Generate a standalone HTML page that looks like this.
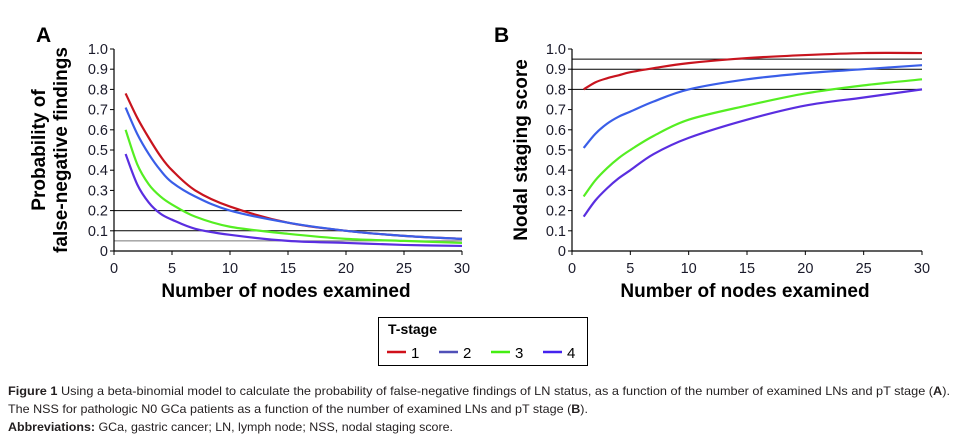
<!DOCTYPE html>
<html><head><meta charset="utf-8"><style>
html,body{margin:0;padding:0;background:#fff;}
svg{display:block;font-family:"Liberation Sans",sans-serif;}
</style></head><body>
<svg id="fig" width="957" height="441" viewBox="0 0 957 441">
<g id="pa"></g>
<g id="pb"></g>
<g>
<rect x="378.5" y="317.5" width="209" height="48" fill="#fff" stroke="#000" stroke-width="1"/>
<text x="388" y="334" font-size="14" font-weight="bold" font-family="Liberation Sans Narrow, Liberation Sans, sans-serif">T-stage</text>
<g><line x1="387" y1="352" x2="406" y2="352" stroke="#d0101a" stroke-width="2.5"/><text x="411" y="358" font-size="15">1</text></g>
<g><line x1="439" y1="352" x2="458" y2="352" stroke="#5050b8" stroke-width="2.5"/><text x="463" y="358" font-size="15">2</text></g>
<g><line x1="491" y1="352" x2="510" y2="352" stroke="#44ee11" stroke-width="2.5"/><text x="515" y="358" font-size="15">3</text></g>
<g><line x1="543" y1="352" x2="562" y2="352" stroke="#4422ee" stroke-width="2.5"/><text x="567" y="358" font-size="15">4</text></g>
</g>
<g font-size="12" fill="#231f20">
<text x="8" y="395" textLength="942" lengthAdjust="spacingAndGlyphs"><tspan font-weight="bold">Figure 1</tspan> Using a beta-binomial model to calculate the probability of false-negative findings of LN status, as a function of the number of examined LNs and pT stage (<tspan font-weight="bold">A</tspan>).</text>
<text x="8" y="413" textLength="580" lengthAdjust="spacingAndGlyphs">The NSS for pathologic N0 GCa patients as a function of the number of examined LNs and pT stage (<tspan font-weight="bold">B</tspan>).</text>
<text x="8" y="431" textLength="445" lengthAdjust="spacingAndGlyphs"><tspan font-weight="bold">Abbreviations:</tspan> GCa, gastric cancer; LN, lymph node; NSS, nodal staging score.</text>
</g>
</svg>
<script>
const xs = [1,2,3,4,5,7,10,15,20,25,30];
const aS1 = [0.78,0.66,0.56,0.47,0.40,0.30,0.22,0.14,0.10,0.075,0.06];
const aS2 = [0.71,0.58,0.48,0.40,0.34,0.27,0.20,0.14,0.10,0.075,0.06];
const aS3 = [0.60,0.43,0.33,0.27,0.23,0.17,0.12,0.085,0.06,0.05,0.04];
const aS4 = [0.48,0.33,0.24,0.185,0.155,0.11,0.08,0.05,0.04,0.03,0.025];
const bS1 = [0.80,0.835,0.855,0.87,0.885,0.905,0.93,0.955,0.97,0.98,0.98];
const bS2 = [0.51,0.58,0.63,0.665,0.69,0.74,0.80,0.85,0.88,0.90,0.92];
const bS3 = [0.27,0.35,0.41,0.46,0.50,0.57,0.65,0.72,0.78,0.82,0.85];
const bS4 = [0.17,0.25,0.31,0.36,0.40,0.48,0.56,0.65,0.72,0.76,0.80];
const aRefs = [0.2,0.1,0.05];
const bRefs = [0.95,0.9,0.8];
const yTicks = ["0","0.1","0.2","0.3","0.4","0.5","0.6","0.7","0.8","0.9","1.0"];
const xTicks = [0,5,10,15,20,25,30];
const colors = ["#c8141e","#3a5ee8","#55ee22","#5a2ee0"];
const NS="http://www.w3.org/2000/svg";
function mk(p,tag,at){const e=document.createElementNS(NS,tag);for(const k in at)e.setAttribute(k,at[k]);p.appendChild(e);return e;}
function smooth(pts){
  let d=`M${pts[0][0]},${pts[0][1]}`;
  for(let i=0;i<pts.length-1;i++){
    const p0=pts[Math.max(0,i-1)],p1=pts[i],p2=pts[i+1],p3=pts[Math.min(pts.length-1,i+2)];
    const c1=[p1[0]+(p2[0]-p0[0])/6,p1[1]+(p2[1]-p0[1])/6];
    const c2=[p2[0]-(p3[0]-p1[0])/6,p2[1]-(p3[1]-p1[1])/6];
    d+=` C${c1[0]},${c1[1]} ${c2[0]},${c2[1]} ${p2[0]},${p2[1]}`;
  }
  return d;
}
function panel(g,x0,x1,letter,titleLines,series,refs){
  const y0=251,y1=49;
  const X=v=>x0+(x1-x0)*v/30, Y=v=>y0-(y0-y1)*v;
  const l=mk(g,'text',{x:x0-78,y:42,'font-size':21,'font-weight':'bold'});l.textContent=letter;
  
  
  refs.forEach((r,i)=>{const ln=mk(g,'line',{x1:x0,x2:x1,y1:Y(r),y2:Y(r),stroke:(r===0.05?'#777':'#000'),'stroke-width':1});
    
    });
  const ax=mk(g,'path',{d:`M${x0} ${y1}V${y0}H${x1}`,fill:'none',stroke:'#000','stroke-width':1.2});
  
  
  yTicks.forEach((t,i)=>{const v=i/10;mk(g,'line',{x1:x0-4,x2:x0,y1:Y(v),y2:Y(v),stroke:'#000'});
    const tx=mk(g,'text',{x:x0-6,y:Y(v)+5,'font-size':14.5,'text-anchor':'end',fill:'#1a1a2a'});tx.textContent=t;
    
    });
  xTicks.forEach(t=>{mk(g,'line',{x1:X(t),x2:X(t),y1:y0,y2:y0+4,stroke:'#000'});
    const tx=mk(g,'text',{x:X(t),y:y0+22,'font-size':14.5,'text-anchor':'middle',fill:'#1a1a2a'});tx.textContent=t;
    
    });
  const xt=mk(g,'text',{x:(x0+x1)/2-2,y:297,'font-size':19,'font-weight':'bold','text-anchor':'middle'});xt.textContent='Number of nodes examined';
  
  
  titleLines.forEach((s,i)=>{const cx=titleLines.length===2?(i===0?x0-69:x0-47):x0-45;
    const t=mk(g,'text',{transform:`translate(${cx},150) rotate(-90)`,'font-size':19,'font-weight':'bold','text-anchor':'middle'});t.textContent=s;
    
    });
  series.forEach((s,k)=>{const p=mk(g,'path',{d:smooth(xs.map((x,i)=>[X(x),Y(s[i])])),fill:'none',stroke:colors[k],'stroke-width':2.2,'stroke-linejoin':'round'});
    
    });
}
panel(document.getElementById('pa'),114,462,'A',['Probability of','false-negative findings'],[aS1,aS2,aS3,aS4],aRefs);
panel(document.getElementById('pb'),572,922,'B',['Nodal staging score'],[bS1,bS2,bS3,bS4],bRefs);
</script>
</body></html>
